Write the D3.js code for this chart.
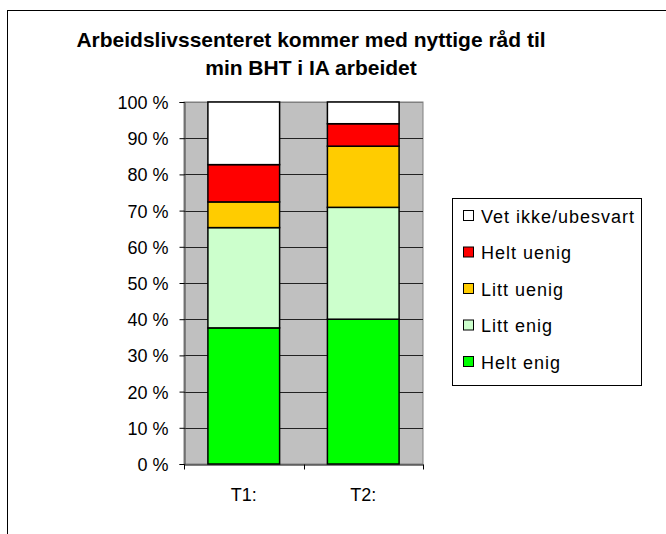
<!DOCTYPE html>
<html>
<head>
<meta charset="utf-8">
<script src="https://cdn.jsdelivr.net/npm/d3@7"></script>
<style>
  body { margin: 0; background: #fff; }
  svg text { font-family: "Liberation Sans", Arial, sans-serif; }
</style>
</head>
<body>
<script>
// Data (percent)
const categories = ["T1:", "T2:"];
const seriesNames = ["Helt enig", "Litt enig", "Litt uenig", "Helt uenig", "Vet ikke/ubesvart"];
const heltEnig = [37.6, 40.0];
const littEnig = [27.7, 30.9];
const littUenig = [7.1, 16.9];
const heltUenig = [10.3, 6.2];
const vetIkke = [17.3, 6.0];
const colors = ["#00ff00", "#ccffcc", "#ffcc00", "#ff0000", "#ffffff"];
const yTicks = [0, 10, 20, 30, 40, 50, 60, 70, 80, 90, 100];

const W = 666, H = 534;
const plot = { left: 184, top: 102, right: 423, bottom: 464 };

const svg = d3.select("body").append("svg")
    .attr("width", W)
    .attr("height", H);

// Outer chart border (extends past window on right/bottom)
svg.append("rect")
    .attr("x", 7.5).attr("y", 10.5)
    .attr("width", 700).attr("height", 600)
    .attr("fill", "none").attr("stroke", "#000");

// Title
const title = svg.append("text")
    .attr("text-anchor", "middle")
    .attr("font-weight", "bold")
    .attr("font-size", 21)
    .attr("fill", "#000");
title.append("tspan").attr("x", 311).attr("y", 47)
    .text("Arbeidslivssenteret kommer med nyttige råd til");
title.append("tspan").attr("x", 311).attr("y", 75)
    .text("min BHT i IA arbeidet");

const x = d3.scaleBand()
    .domain(categories)
    .range([plot.left, plot.right])
    .paddingInner(0.4)
    .paddingOuter(0.2);

const y = d3.scaleLinear()
    .domain([0, 100])
    .range([plot.bottom, plot.top]);

// Plot background
svg.append("rect")
    .attr("x", plot.left).attr("y", plot.top)
    .attr("width", plot.right - plot.left)
    .attr("height", plot.bottom - plot.top)
    .attr("fill", "#c0c0c0")
    .attr("stroke", "#808080");

// Gridlines
svg.append("g").selectAll("line")
    .data(yTicks.filter(d => d > 0))
    .enter().append("line")
    .attr("x1", plot.left).attr("x2", plot.right)
    .attr("y1", d => Math.round(y(d)) + 0.5)
    .attr("y2", d => Math.round(y(d)) + 0.5)
    .attr("stroke", d => d === 100 ? "#808080" : "#222");

// Stacked bars
const rows = categories.map((c, i) => ({
    cat: c,
    "Helt enig": heltEnig[i],
    "Litt enig": littEnig[i],
    "Litt uenig": littUenig[i],
    "Helt uenig": heltUenig[i],
    "Vet ikke/ubesvart": vetIkke[i]
}));
const stacked = d3.stack().keys(seriesNames)(rows);

svg.append("g").selectAll("g")
    .data(stacked)
    .enter().append("g")
    .attr("fill", (d, i) => colors[i])
    .selectAll("rect")
    .data(d => d)
    .enter().append("rect")
    .attr("x", d => x(d.data.cat))
    .attr("y", d => y(d[1]))
    .attr("width", x.bandwidth())
    .attr("height", d => y(d[0]) - y(d[1]))
    .attr("stroke", "#000")
    .attr("stroke-width", 1.5);

// Y axis
const yAxis = svg.append("g")
    .attr("transform", `translate(${plot.left + 0.5},0)`)
    .call(d3.axisLeft(y).tickValues(yTicks).tickSize(5).tickPadding(11)
        .tickFormat(d => d + " %"));
yAxis.select(".domain").attr("stroke", "#404040");
yAxis.selectAll("text").attr("font-size", 18).attr("fill", "#000")
    .attr("font-family", "Liberation Sans, Arial, sans-serif")
    .attr("dy", "0.36em");

// X axis
const xAxis = svg.append("g")
    .attr("transform", `translate(0,${plot.bottom + 0.5})`)
    .call(d3.axisBottom(x).tickSize(0).tickPadding(24));
xAxis.select(".domain").attr("stroke", "#000");
xAxis.selectAll("text").attr("font-size", 18).attr("fill", "#000")
    .attr("font-family", "Liberation Sans, Arial, sans-serif");
// category separator ticks
xAxis.selectAll(".sep")
    .data([plot.left, (plot.left + plot.right) / 2, plot.right])
    .enter().append("line")
    .attr("x1", d => Math.round(d) + 0.5).attr("x2", d => Math.round(d) + 0.5)
    .attr("y1", 0).attr("y2", 5)
    .attr("stroke", "#000");

// Legend
const legend = svg.append("g");
legend.append("rect")
    .attr("x", 452.5).attr("y", 198.5)
    .attr("width", 189).attr("height", 187)
    .attr("fill", "#fff").attr("stroke", "#000");

const legendOrder = seriesNames.map((n, i) => ({ name: n, color: colors[i] })).reverse();
const ly = d3.scalePoint().domain(legendOrder.map(d => d.name)).range([216, 362]);

const item = legend.selectAll(".item")
    .data(legendOrder)
    .enter().append("g");
item.append("rect")
    .attr("x", 463.5)
    .attr("y", d => ly(d.name) - 5.5)
    .attr("width", 10).attr("height", 10)
    .attr("fill", d => d.color)
    .attr("stroke", "#000");
item.append("text")
    .attr("x", 481)
    .attr("y", d => ly(d.name) + 6.5)
    .attr("font-size", 18)
    .attr("letter-spacing", 1)
    .attr("fill", "#000")
    .text(d => d.name);
</script>
</body>
</html>
